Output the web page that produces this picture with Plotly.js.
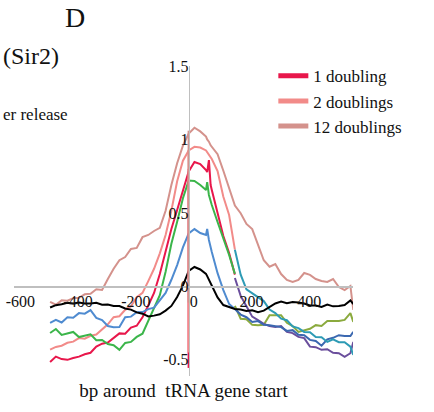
<!DOCTYPE html>
<html><head><meta charset="utf-8">
<script src="https://cdn.plot.ly/plotly-3.0.1.min.js"></script>
<style>html,body{margin:0;padding:0;background:#fff}#chart{width:434px;height:412px}</style>
</head><body><div id="chart"></div>
<script>
// bp positions (shared grid)
const bp = [-480,-460,-440,-420,-400,-380,-360,-340,-320,-300,-280,-260,-240,-220,-200,-180,-160,-140,-120,-100,-80,-60,-40,-20,0,20,40,60,64,70,76,80,100,120,140,160,180,200,220,240,260,280,300,320,340,360,380,400,420,440,460,480,500,520,540,560,570];
const rightStart = 35; // index of bp = 160

// legend series
const oneDoubling = [-0.515,-0.478,-0.495,-0.5,-0.488,-0.478,-0.462,-0.452,-0.41,-0.39,-0.382,-0.35,-0.32,-0.322,-0.28,-0.268,-0.21,-0.13,-0.045,0.084,0.241,0.391,0.52,0.656,0.782,0.847,0.833,0.792,0.778,0.86,0.69,0.656,0.5,0.343,0.227,0.08];
const twoDoublings = [-0.43,-0.412,-0.404,-0.384,-0.376,-0.352,-0.356,-0.336,-0.328,-0.29,-0.258,-0.21,-0.203,-0.16,-0.135,-0.074,-0.044,0.036,0.12,0.225,0.35,0.515,0.715,0.855,0.925,0.95,0.945,0.925,0.915,0.9,0.88,0.867,0.785,0.61,0.486,0.25];
const twelveDoublings = [-0.106,-0.125,-0.095,-0.098,-0.08,-0.078,-0.054,-0.05,-0.02,-0.024,0.05,0.12,0.178,0.2,0.255,0.262,0.335,0.35,0.377,0.398,0.515,0.69,0.838,0.958,1.04,1.08,1.055,1.02,1.0,0.985,0.96,0.949,0.9,0.787,0.67,0.55,0.498,0.425,0.39,0.28,0.178,0.134,0.152,0.084,0.044,0.03,0.044,0.091,0.078,0.05,0.037,0.03,0.05,-0.004,-0.025,0.003,-0.16];
// other series
const greenLeft = [-0.317,-0.29,-0.33,-0.322,-0.31,-0.345,-0.336,-0.326,-0.366,-0.365,-0.392,-0.4,-0.432,-0.385,-0.378,-0.344,-0.322,-0.235,-0.142,-0.06,0.1,0.29,0.44,0.6,0.72,0.718,0.69,0.656,0.71,0.622,0.581,0.554,0.438,0.33,0.214,0.085];
const blueLeft = [-0.248,-0.228,-0.246,-0.21,-0.214,-0.182,-0.186,-0.162,-0.214,-0.23,-0.27,-0.278,-0.276,-0.21,-0.206,-0.176,-0.175,-0.155,-0.145,-0.095,-0.045,0.045,0.145,0.265,0.36,0.39,0.363,0.35,0.391,0.316,0.275,0.234,0.09,-0.025,-0.12,-0.154];
const blackAll = [-0.144,-0.128,-0.122,-0.112,-0.116,-0.11,-0.116,-0.117,-0.112,-0.125,-0.124,-0.133,-0.134,-0.15,-0.158,-0.177,-0.186,-0.205,-0.199,-0.19,-0.165,-0.133,-0.072,0.005,0.105,0.132,0.115,0.085,0.07,0.044,0.025,0.003,-0.075,-0.127,-0.14,-0.154,-0.158,-0.168,-0.163,-0.176,-0.165,-0.14,-0.116,-0.104,-0.115,-0.107,-0.109,-0.117,-0.13,-0.13,-0.14,-0.124,-0.136,-0.134,-0.127,-0.096,-0.12];
const tealRight = [0.25,0.08,-0.02,-0.045,-0.075,-0.1,-0.158,-0.182,-0.22,-0.23,-0.272,-0.284,-0.31,-0.312,-0.344,-0.346,-0.378,-0.36,-0.38,-0.38,-0.41,-0.467];
const purpleRight = [0.057,-0.065,-0.135,-0.206,-0.23,-0.255,-0.27,-0.276,-0.27,-0.31,-0.318,-0.344,-0.352,-0.41,-0.414,-0.432,-0.428,-0.452,-0.455,-0.48,-0.455,-0.378];
const oliveRight = [-0.133,-0.22,-0.224,-0.262,-0.264,-0.262,-0.196,-0.194,-0.196,-0.248,-0.27,-0.31,-0.298,-0.289,-0.264,-0.27,-0.236,-0.235,-0.236,-0.228,-0.182,-0.242];
const darkBlueRight = [-0.154,-0.192,-0.21,-0.242,-0.236,-0.262,-0.264,-0.27,-0.277,-0.303,-0.298,-0.33,-0.332,-0.364,-0.372,-0.404,-0.36,-0.35,-0.332,-0.337,-0.338,-0.31];
// vertical drops drawn at the gene start
const dropX = [0, 0];
const oneDrop = [0.8, -0.555];
const twoDrop = [0.93, -0.45];
const twelveDrop = [1.06, -0.11];

const legendNames = ['1 doubling', '2 doublings', '12 doublings'];
const xTickVals = [-600, -400, -200, 0, 200, 400];
const xTickText = ['-600', '-400', '-200', '0', '200', '400'];
const yTickVals = [-0.5, 0, 0.5, 1, 1.5];
const yTickText = ['-0.5', '0', '0.5', '1', '1.5'];

const C = {one:'#E8174B', two:'#F28B89', twelve:'#D4928C', green:'#3BB54A', blue:'#4F8BD0', teal:'#2E9BB5', purple:'#6A4E9C', olive:'#8BAA3E', dblue:'#3B68B0', black:'#000000'};
const bpRight = bp.slice(rightStart);
const W = 2;
function ln(x, y, color, width) {
  return {type:'scatter', mode:'lines', x:x, y:y, line:{color:color, width:width||W}, showlegend:false, hoverinfo:'skip', connectgaps:true};
}
const traces = [
  ln(bp, twelveDoublings, C.twelve),
  ln(bp, twoDoublings, C.two),
  ln(bp, oneDoubling, C.one),
  ln(bp, greenLeft, C.green),
  ln(bp, blueLeft, C.blue),
  ln(bpRight, oliveRight, C.olive),
  ln(bpRight, purpleRight, C.purple),
  ln(bpRight, darkBlueRight, C.dblue),
  ln(bpRight, tealRight, C.teal),
  ln(bp, blackAll, C.black),
  ln(dropX, oneDrop, C.one, 2.2),
  ln(dropX, twoDrop, C.two, 2.2),
  ln(dropX, twelveDrop, C.twelve, 2.2)
];
// legend entries
[[legendNames[0], C.one],[legendNames[1], C.two],[legendNames[2], C.twelve]].forEach(function(p){
  traces.push({type:'scatter', mode:'lines', x:[null], y:[null], name:p[0], line:{color:p[1], width:5}, showlegend:true, hoverinfo:'skip'});
});

const serif = 'Liberation Serif, Times New Roman, Times, serif';
const xr = [-605, 569], yr = [-0.61, 1.5];
const layout = {
  width:434, height:412,
  margin:{l:14, r:81, t:66, b:36},
  paper_bgcolor:'#ffffff', plot_bgcolor:'#ffffff',
  font:{family:serif, color:'#111111'},
  showlegend:true,
  legend:{x:0.765, y:1.025, xanchor:'left', yanchor:'top', font:{family:serif, size:17, color:'#111111'}, bgcolor:'rgba(0,0,0,0)', tracegroupgap:0, itemwidth:30},
  xaxis:{range:xr, anchor:'free', position:(0 - yr[0])/(yr[1]-yr[0]), showgrid:false, zeroline:false, showline:true, linecolor:'#BFBFBF', linewidth:1.5, ticks:'', tickvals:xTickVals, ticktext:xTickText, ticklabelshift:5, tickfont:{family:serif, size:16, color:'#111111'}, title:{text:'bp around  tRNA gene start', font:{family:serif, size:19, color:'#111111'}, standoff:74}, automargin:false},
  yaxis:{range:yr, anchor:'free', position:(0 - xr[0])/(xr[1]-xr[0]), showgrid:false, zeroline:false, showline:true, linecolor:'#BFBFBF', linewidth:1.5, ticks:'', tickvals:yTickVals, ticktext:yTickText, ticklabelstandoff:-3, tickfont:{family:serif, size:16, color:'#111111'}, automargin:false},
  annotations:[
    {text:'D', xref:'paper', yref:'paper', x:0.18, y:1.155, xanchor:'center', yanchor:'middle', showarrow:false, font:{family:serif, size:28, color:'#111111'}},
    {text:'(Sir2)', xref:'paper', yref:'paper', x:-0.038, y:1.032, xanchor:'left', yanchor:'middle', showarrow:false, font:{family:serif, size:24, color:'#111111'}},
    {text:'er release', xref:'paper', yref:'paper', x:-0.038, y:0.842, xanchor:'left', yanchor:'middle', showarrow:false, font:{family:serif, size:17, color:'#111111'}}
  ]
};
Plotly.newPlot('chart', traces, layout, {displayModeBar:false, staticPlot:true});
</script></body></html>
